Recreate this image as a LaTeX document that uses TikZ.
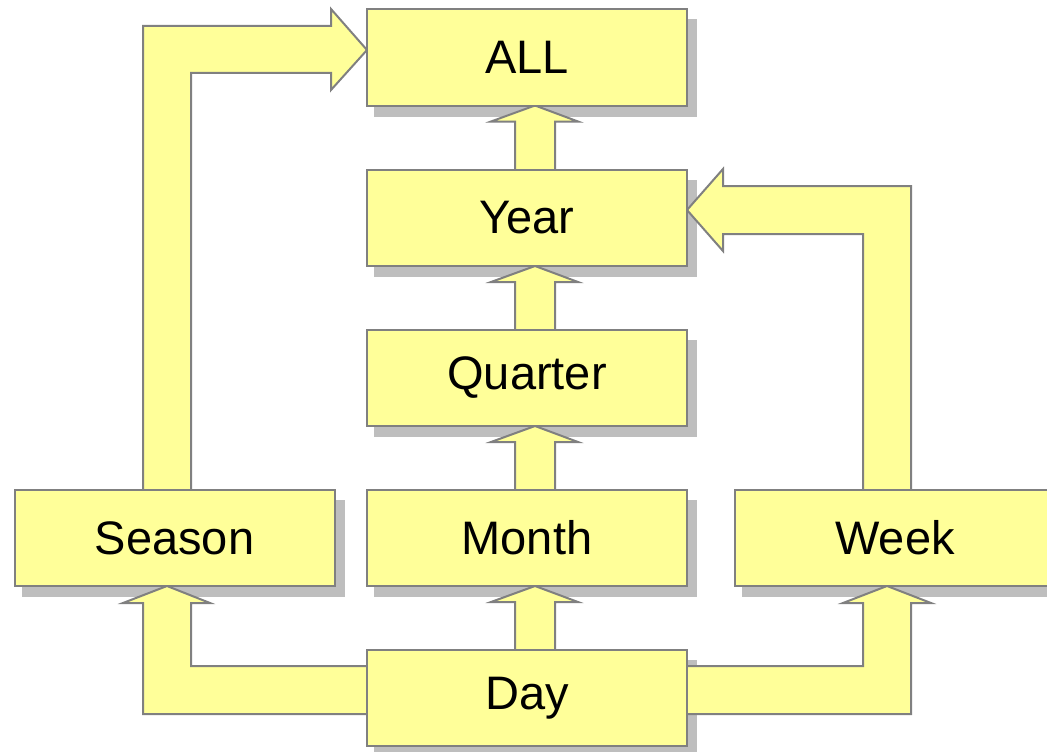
\documentclass[tikz,border=0pt]{standalone}
\usepackage{fontspec}
\setmainfont{Liberation Sans}
\usetikzlibrary{calc}
\pgfdeclarelayer{shadowlayer}
\pgfdeclarelayer{arrowlayer}
\pgfsetlayers{shadowlayer,arrowlayer,main}
\definecolor{boxyellow}{RGB}{255,255,153}
\definecolor{edgegray}{RGB}{128,128,128}
\definecolor{shadowgray}{RGB}{190,190,190}
\tikzset{
  levelbox/.style={rectangle, draw=edgegray, line width=2pt, fill=boxyellow,
    minimum width=320pt, minimum height=96pt, inner sep=0pt, outer sep=0pt,
    font=\fontsize{47}{56}\selectfont, text=black},
  arrfill/.style={fill=boxyellow},
  arrline/.style={draw=edgegray, line width=2pt, line join=miter},
  boxshadow/.style={fill=shadowgray}
}
\newcommand\myBlockArrow[1]{\fill[arrfill] #1 -- cycle; \draw[arrline] #1;}
\newcommand\myUpArrow[2]{%
  \myBlockArrow{($(#1.north)+(-12,0)$) -- ($(#2.south)+(-12,16)$) -- ($(#2.south)+(-36,16)$) -- ($(#2.south)+(8,0)$) -- ($(#2.south)+(51,16)$) -- ($(#2.south)+(28,16)$) -- ($(#1.north)+(28,0)$)}}
\newcommand\myShadow[1]{\fill[boxshadow] ($(#1.south west)+(7,11)$) rectangle ($(#1.north east)+(10,10)$);}
\begin{document}
\begin{tikzpicture}[x=1pt,y=-1pt]
\useasboundingbox (0,0) rectangle (1047,752);
\node[levelbox] (all) at (527,57.5) {ALL};
\node[levelbox] (year) at (527,218) {Year};
\node[levelbox] (quarter) at (527,378) {Quarter};
\node[levelbox] (season) at (174.5,538) {Season};
\node[levelbox] (month) at (527,538) {Month};
\node[levelbox] (week) at (895,538) {Week};
\node[levelbox] (day) at (527,698) {Day};
\begin{pgfonlayer}{shadowlayer}
  \foreach \n in {all,year,quarter,season,month,week,day} {\myShadow{\n}}
\end{pgfonlayer}
\begin{pgfonlayer}{arrowlayer}
  \myUpArrow{year}{all}
  \myUpArrow{quarter}{year}
  \myUpArrow{month}{quarter}
  \myUpArrow{day}{month}
  % Day -> Season
  \coordinate (dsT) at ($(day.west)+(0,-32)$);
  \coordinate (dsB) at ($(day.west)+(0,16)$);
  \coordinate (dsL) at ($(season.south)+(-31.5,17)$);
  \coordinate (dsR) at ($(season.south)+(16.5,17)$);
  \myBlockArrow{(dsT) -- (dsR |- dsT) -- (dsR) -- ($(dsR)+(19,0)$) -- ($(season.south)+(-7.5,0)$) -- ($(dsL)+(-20,0)$) -- (dsL) -- (dsL |- dsB) -- (dsB)}
  % Day -> Week
  \coordinate (dwT) at ($(day.east)+(0,-32)$);
  \coordinate (dwB) at ($(day.east)+(0,16)$);
  \coordinate (dwL) at ($(week.south)+(-32,17)$);
  \coordinate (dwR) at ($(week.south)+(16,17)$);
  \myBlockArrow{(dwT) -- (dwL |- dwT) -- (dwL) -- ($(dwL)+(-20,0)$) -- ($(week.south)+(-8,0)$) -- ($(dwR)+(20,0)$) -- (dwR) -- (dwR |- dwB) -- (dwB)}
  % Season -> ALL
  \coordinate (saL) at ($(season.north)+(-31.5,0)$);
  \coordinate (saR) at ($(season.north)+(16.5,0)$);
  \coordinate (saT) at ($(all.west)+(-36,-31.5)$);
  \coordinate (saB) at ($(all.west)+(-36,15.5)$);
  \myBlockArrow{(saL) -- (saL |- saT) -- (saT) -- ($(saT)+(0,-17)$) -- ($(all.west)+(0,-7.5)$) -- ($(saB)+(0,17)$) -- (saB) -- (saR |- saB) -- (saR)}
  % Week -> Year
  \coordinate (wyR) at ($(week.north)+(16,0)$);
  \coordinate (wyL) at ($(week.north)+(-32,0)$);
  \coordinate (wyT) at ($(year.east)+(36,-32)$);
  \coordinate (wyB) at ($(year.east)+(36,16)$);
  \myBlockArrow{(wyR) -- (wyR |- wyT) -- (wyT) -- ($(wyT)+(0,-17)$) -- ($(year.east)+(0,-8)$) -- ($(wyB)+(0,17)$) -- (wyB) -- (wyL |- wyB) -- (wyL)}
\end{pgfonlayer}
\end{tikzpicture}
\end{document}
